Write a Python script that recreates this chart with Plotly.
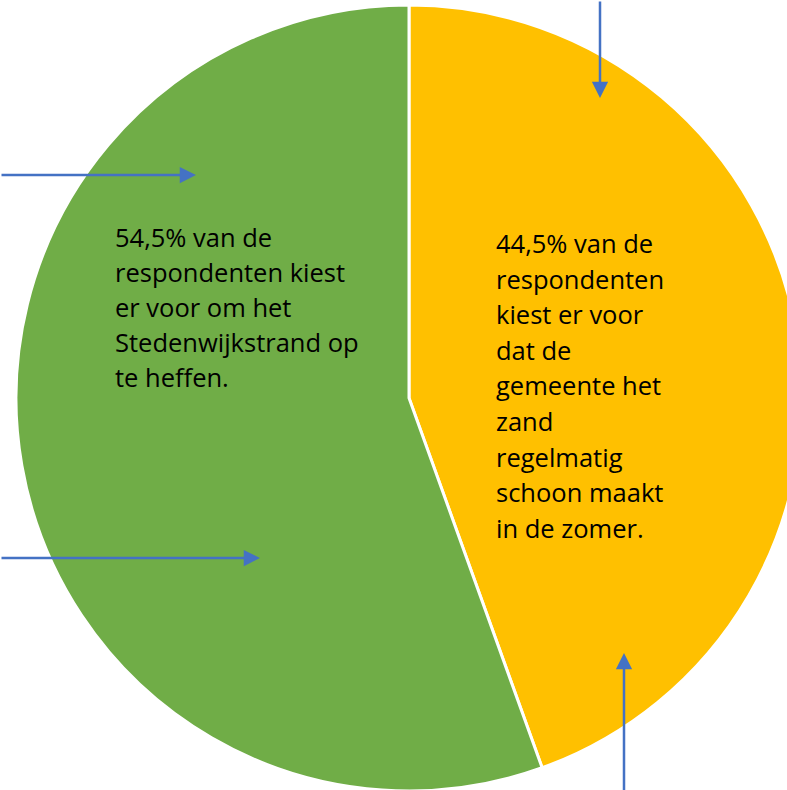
import plotly.graph_objects as go

# ---- data ----
categories = ["Gemeente maakt zand regelmatig schoon", "Stedenwijkstrand opheffen"]
values = [44.5, 55.5]
slice_colors = ["#FFC000", "#70AD47"]

green_label_lines = [
    "54,5% van de",
    "respondenten kiest",
    "er voor om het",
    "Stedenwijkstrand op",
    "te heffen.",
]
yellow_label_lines = [
    "44,5% van de",
    "respondenten",
    "kiest er voor",
    "dat de",
    "gemeente het",
    "zand",
    "regelmatig",
    "schoon maakt",
    "in de zomer.",
]

# ---- layout geometry (pixels) ----
W, H = 810, 800
CX, CY, R = 409, 398, 393
FONT = "Open Sans"
FS = 25.5
ARROW_COLOR = "#4472C4"


def px(x):
    return x / W


def py(y):
    return 1 - y / H


fig = go.Figure()
fig.add_trace(
    go.Pie(
        labels=categories,
        values=values,
        sort=False,
        direction="clockwise",
        rotation=0,
        marker=dict(colors=slice_colors, line=dict(color="white", width=3)),
        textinfo="none",
        hoverinfo="skip",
        showlegend=False,
        domain=dict(x=[px(CX - R), px(CX + R)], y=[py(CY + R), py(CY - R)]),
    )
)

annotations = []
# green slice text
for i, line in enumerate(green_label_lines):
    annotations.append(
        dict(
            text=line, x=px(113), y=py(237 + 35 * i), xref="paper", yref="paper",
            xanchor="left", yanchor="middle", showarrow=False,
            font=dict(family=FONT, size=FS, color="black"),
        )
    )
# yellow slice text
for i, line in enumerate(yellow_label_lines):
    annotations.append(
        dict(
            text=line, x=px(494), y=py(243 + 35.6 * i), xref="paper", yref="paper",
            xanchor="left", yanchor="middle", showarrow=False,
            font=dict(family=FONT, size=FS, color="black"),
        )
    )

# arrows: (tip x, tip y, tail offset ax, ay) in pixels
arrows = [
    (600, 98, 0, -110),
    (196, 175, -210, 0),
    (260, 558, -275, 0),
    (624, 653, 0, 150),
]
for x, y, ax, ay in arrows:
    annotations.append(
        dict(
            text="", x=px(x), y=py(y), xref="paper", yref="paper",
            ax=ax, ay=ay, axref="pixel", ayref="pixel",
            showarrow=True, arrowhead=2, arrowsize=1.3, arrowwidth=2.5,
            arrowcolor=ARROW_COLOR, standoff=0,
        )
    )

fig.update_layout(
    width=W,
    height=H,
    margin=dict(l=0, r=0, t=0, b=0),
    paper_bgcolor="white",
    plot_bgcolor="white",
    annotations=annotations,
    showlegend=False,
)

fig.write_html(
    "out.html",
    config={"displayModeBar": False},
    post_script="document.body.style.margin='0';document.body.style.overflow='hidden';",
)
